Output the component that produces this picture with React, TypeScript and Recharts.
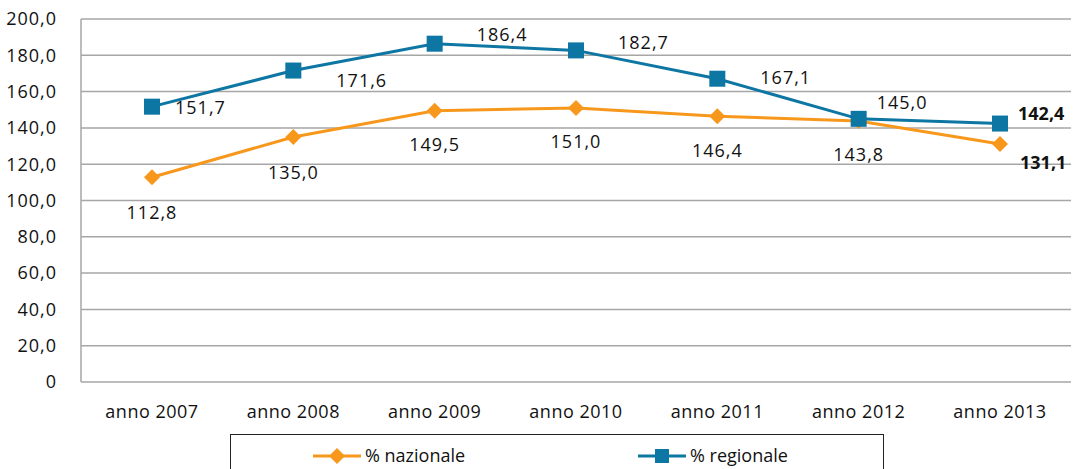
import { LineChart, Line, XAxis, YAxis, CartesianGrid, Legend } from 'recharts';

const years = ['anno 2007', 'anno 2008', 'anno 2009', 'anno 2010', 'anno 2011', 'anno 2012', 'anno 2013'];
const nazionale = [112.8, 135.0, 149.5, 151.0, 146.4, 143.8, 131.1];
const regionale = [151.7, 171.6, 186.4, 182.7, 167.1, 145.0, 142.4];
const yTicks = [0, 20, 40, 60, 80, 100, 120, 140, 160, 180, 200];

// label placement: [dx, dy] from the marker centre
const regLabelPos = [[23, 1], [43, 10], [42, -9], [42, -8], [43, -1], [18, -16], [18, -10]];
const nazLabelPos = [[0, 35], [0, 36], [0, 34], [0, 34], [0, 34], [0, 34], [20, 19]];

const ORANGE = '#f7981d';
const BLUE = '#0e76a3';
const FONT = '"Open Sans", Lato, sans-serif';

const data = years.map((year, i) => ({ year, naz: nazionale[i], reg: regionale[i] }));

const fmt = (v: number) => (v === 0 ? '0' : v.toFixed(1).replace('.', ','));

const Diamond = (props: any) => {
  const { cx, cy } = props;
  return <path d={`M${cx},${cy - 8}L${cx + 8},${cy}L${cx},${cy + 8}L${cx - 8},${cy}Z`} fill={ORANGE} />;
};

const Square = (props: any) => {
  const { cx, cy } = props;
  return <rect x={cx - 8} y={cy - 8} width={16} height={16} fill={BLUE} />;
};

const makeLabel = (pos: number[][], centred: boolean) => (props: any) => {
  const { x, y, value, index } = props;
  const last = index === years.length - 1;
  const [dx, dy] = pos[index];
  return (
    <text
      x={x + dx}
      y={y + dy}
      dy="0.35em"
      textAnchor={centred && !last ? 'middle' : 'start'}
      fontSize={18}
      fontWeight={last ? 700 : 400}
      letterSpacing={last ? 0 : 1}
      fill="#111"
      fontFamily={FONT}
    >
      {fmt(value)}
    </text>
  );
};

const LegendBox = () => (
  <div
    style={{
      position: 'relative',
      border: '1.5px solid #222',
      height: 44,
      fontFamily: FONT,
      fontSize: 18,
      color: '#111',
      boxSizing: 'border-box',
    }}
  >
    <svg width={48} height={18} style={{ position: 'absolute', left: 82, top: 12 }}>
      <line x1={0} y1={9} x2={48} y2={9} stroke={ORANGE} strokeWidth={3} />
      <path d="M24,1L32,9L24,17L16,9Z" fill={ORANGE} />
    </svg>
    <span style={{ position: 'absolute', left: 134, top: 8, lineHeight: '24px' }}>% nazionale</span>
    <svg width={48} height={18} style={{ position: 'absolute', left: 407, top: 12 }}>
      <line x1={0} y1={9} x2={48} y2={9} stroke={BLUE} strokeWidth={3} />
      <rect x={17} y={2} width={14} height={14} fill={BLUE} />
    </svg>
    <span style={{ position: 'absolute', left: 459, top: 8, lineHeight: '24px' }}>% regionale</span>
  </div>
);

export default function App() {
  return (
    <div style={{ position: 'absolute', left: 0, top: 0, background: '#fff' }}>
      <LineChart width={1074} height={469} data={data} margin={{ top: 19, right: 3, bottom: 47, left: 0 }}>
        <CartesianGrid vertical={false} stroke="#a6a6a6" strokeWidth={1.5} />
        <XAxis
          dataKey="year"
          height={40}
          axisLine={false}
          tickLine={false}
          interval={0}
          padding={{ left: 71, right: 71 }}
          tick={(p: any) => (
            <text x={p.x} y={p.y + 28} textAnchor="middle" fontSize={18} letterSpacing={0.5} fill="#111" fontFamily={FONT}>
              {p.payload.value}
            </text>
          )}
        />
        <YAxis
          width={81}
          domain={[0, 200]}
          ticks={yTicks}
          axisLine={{ stroke: '#a6a6a6', strokeWidth: 1.5 }}
          tickLine={false}
          tick={(p: any) => (
            <text x={p.x - 16} y={p.y} dy="0.35em" textAnchor="end" fontSize={18} letterSpacing={1} fill="#111" fontFamily={FONT}>
              {fmt(p.payload.value)}
            </text>
          )}
        />
        <Legend
          verticalAlign="middle"
          align="center"
          wrapperStyle={{ position: 'absolute', top: 434, left: 230, width: 654 }}
          content={() => <LegendBox />}
        />
        <Line
          dataKey="naz"
          stroke={ORANGE}
          strokeWidth={3}
          dot={<Diamond />}
          activeDot={false}
          label={makeLabel(nazLabelPos, true)}
          isAnimationActive={false}
        />
        <Line
          dataKey="reg"
          stroke={BLUE}
          strokeWidth={3}
          dot={<Square />}
          activeDot={false}
          label={makeLabel(regLabelPos, false)}
          isAnimationActive={false}
        />
      </LineChart>
    </div>
  );
}
